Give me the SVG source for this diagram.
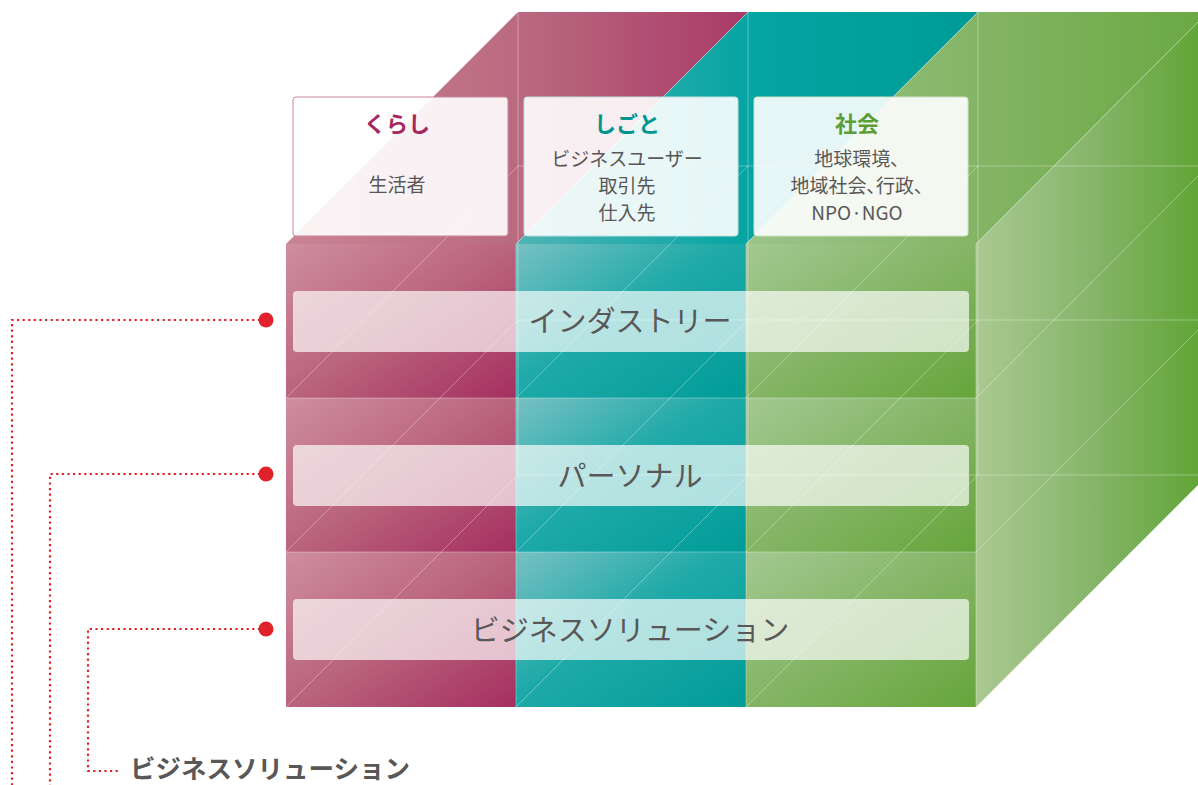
<svg xmlns="http://www.w3.org/2000/svg" width="1198" height="785" viewBox="0 0 1198 785">
<defs>
<style>
.jp{font-family:"Noto Sans CJK JP","Noto Sans",sans-serif}
.ttl{font-size:22px;font-weight:700;text-anchor:middle}
.sub{font-size:19px;fill:#595757;text-anchor:middle}
.palt{font-feature-settings:"palt"}
.band{fill:#ffffff;fill-opacity:0.68}
.bt{font-size:29px;fill:#595757;text-anchor:middle}
.gl{stroke:#ffffff;stroke-opacity:0.32;stroke-width:1;fill:none}
.dot{stroke:#e0222a;stroke-width:2.2;fill:none;stroke-dasharray:2.2 3.4}
.pin{fill:#e0222a}
.card{fill:#ffffff;fill-opacity:0.9;stroke-width:1}
</style>
<linearGradient id="gM" x1="0" y1="0" x2="1" y2="1"><stop offset="0" stop-color="#cf8e9f"/><stop offset="0.5" stop-color="#ba647d"/><stop offset="1" stop-color="#a52f5f"/></linearGradient>
<linearGradient id="gT" x1="0" y1="0" x2="1" y2="1"><stop offset="0" stop-color="#78c0c3"/><stop offset="0.45" stop-color="#1faaa8"/><stop offset="1" stop-color="#009c98"/></linearGradient>
<linearGradient id="gG" x1="0" y1="0" x2="1" y2="1"><stop offset="0" stop-color="#a3c892"/><stop offset="0.5" stop-color="#84b565"/><stop offset="1" stop-color="#66a53b"/></linearGradient>
<linearGradient id="tM" gradientUnits="userSpaceOnUse" x1="286" y1="0" x2="748" y2="0"><stop offset="0" stop-color="#c98494"/><stop offset="0.5" stop-color="#ba6a80"/><stop offset="1" stop-color="#a93b67"/></linearGradient>
<linearGradient id="tT" gradientUnits="userSpaceOnUse" x1="516" y1="0" x2="978" y2="0"><stop offset="0" stop-color="#4fb4b5"/><stop offset="0.5" stop-color="#05a5a3"/><stop offset="1" stop-color="#009b97"/></linearGradient>
<linearGradient id="tG" gradientUnits="userSpaceOnUse" x1="746" y1="0" x2="1208" y2="0"><stop offset="0" stop-color="#9cc48a"/><stop offset="0.5" stop-color="#84b565"/><stop offset="1" stop-color="#6aa842"/></linearGradient>
<linearGradient id="sG" gradientUnits="userSpaceOnUse" x1="976" y1="0" x2="1198" y2="0"><stop offset="0" stop-color="#aac991"/><stop offset="0.5" stop-color="#88b66c"/><stop offset="1" stop-color="#62a537"/></linearGradient>
</defs>

<g id="cube">
<polygon points="286,244 516,244 748,12 518,12" fill="url(#tM)"/>
<polygon points="516,244 746,244 978,12 748,12" fill="url(#tT)"/>
<polygon points="746,244 976,244 1208,12 978,12" fill="url(#tG)"/>
<polygon points="976,244 1208,12 1208,475 976,707" fill="url(#sG)"/>
<rect x="286" y="244" width="230" height="154" fill="url(#gM)"/>
<rect x="286" y="398" width="230" height="154" fill="url(#gM)"/>
<rect x="286" y="552" width="230" height="155" fill="url(#gM)"/>
<rect x="516" y="244" width="230" height="154" fill="url(#gT)"/>
<rect x="516" y="398" width="230" height="154" fill="url(#gT)"/>
<rect x="516" y="552" width="230" height="155" fill="url(#gT)"/>
<rect x="746" y="244" width="230" height="154" fill="url(#gG)"/>
<rect x="746" y="398" width="230" height="154" fill="url(#gG)"/>
<rect x="746" y="552" width="230" height="155" fill="url(#gG)"/>
</g>

<g id="grid" class="gl">
<line x1="518" y1="12" x2="518" y2="475"/>
<line x1="748" y1="12" x2="748" y2="475"/>
<line x1="978" y1="12" x2="978" y2="475"/>
<line x1="518" y1="166" x2="1208" y2="166"/>
<line x1="518" y1="320" x2="1208" y2="320"/>
<line x1="518" y1="475" x2="1208" y2="475"/>
<line x1="286" y1="398" x2="976" y2="398"/>
<line x1="286" y1="552" x2="976" y2="552"/>
<line x1="516" y1="244" x2="516" y2="707"/>
<line x1="746" y1="244" x2="746" y2="707"/>
<line x1="976" y1="244" x2="976" y2="707"/>
<line x1="516" y1="244" x2="748" y2="12"/>
<line x1="746" y1="244" x2="978" y2="12"/>
<line x1="976" y1="244" x2="1208" y2="12"/>
<line x1="286" y1="398" x2="518" y2="166"/>
<line x1="516" y1="398" x2="748" y2="166"/>
<line x1="746" y1="398" x2="978" y2="166"/>
<line x1="976" y1="398" x2="1208" y2="166"/>
<line x1="286" y1="552" x2="518" y2="320"/>
<line x1="516" y1="552" x2="748" y2="320"/>
<line x1="746" y1="552" x2="978" y2="320"/>
<line x1="976" y1="552" x2="1208" y2="320"/>
<line x1="286" y1="707" x2="518" y2="475"/>
<line x1="516" y1="707" x2="748" y2="475"/>
<line x1="746" y1="707" x2="978" y2="475"/>
</g>

<g id="card-kurashi" class="jp">
<rect class="card" x="293" y="97" width="215" height="139" rx="3" stroke="#c98696"/>
<text class="ttl" x="397" y="131.5" fill="#a6285f">くらし</text>
<text class="sub" x="397" y="192">生活者</text>
</g>
<g id="card-shigoto" class="jp">
<rect class="card" x="524" y="97" width="214" height="139" rx="3" stroke="#bfe0e0"/>
<text class="ttl" x="627" y="131.5" fill="#00968f">しごと</text>
<text class="sub" x="627" y="166">ビジネスユーザー</text>
<text class="sub" x="627" y="193">取引先</text>
<text class="sub" x="627" y="220">仕入先</text>
</g>
<g id="card-shakai" class="jp">
<rect class="card" x="754" y="97" width="214" height="139" rx="3" stroke="#cfe3c4"/>
<text class="ttl" x="857" y="131.5" fill="#5a9e35">社会</text>
<text class="sub palt" x="857" y="166">地球環境、</text>
<text class="sub palt" x="857" y="193">地域社会、行政、</text>
<text class="sub" x="857" y="220">NPO·NGO</text>
</g>

<g id="band-industry" class="jp">
<rect class="band" x="293" y="291" width="676" height="61" rx="4"/>
<text class="bt" x="630" y="332">インダストリー</text>
</g>
<g id="band-personal" class="jp">
<rect class="band" x="293" y="445" width="676" height="61" rx="4"/>
<text class="bt" x="630" y="487">パーソナル</text>
</g>
<g id="band-business" class="jp">
<rect class="band" x="293" y="599" width="676" height="61" rx="4"/>
<text class="bt" x="630" y="641">ビジネスソリューション</text>
</g>

<g id="connectors">
<polyline class="dot" points="260,320 12,320 12,785"/>
<polyline class="dot" points="260,474 50,474 50,785"/>
<polyline class="dot" points="260,629 88,629 88,771 120,771"/>
<circle class="pin" cx="266" cy="320" r="7.5"/>
<circle class="pin" cx="266" cy="474" r="7.5"/>
<circle class="pin" cx="266" cy="629" r="7.5"/>
</g>

<g id="label-business" class="jp">
<text x="130" y="778" font-size="25.5" font-weight="700" fill="#595757">ビジネスソリューション</text>
</g>
</svg>
